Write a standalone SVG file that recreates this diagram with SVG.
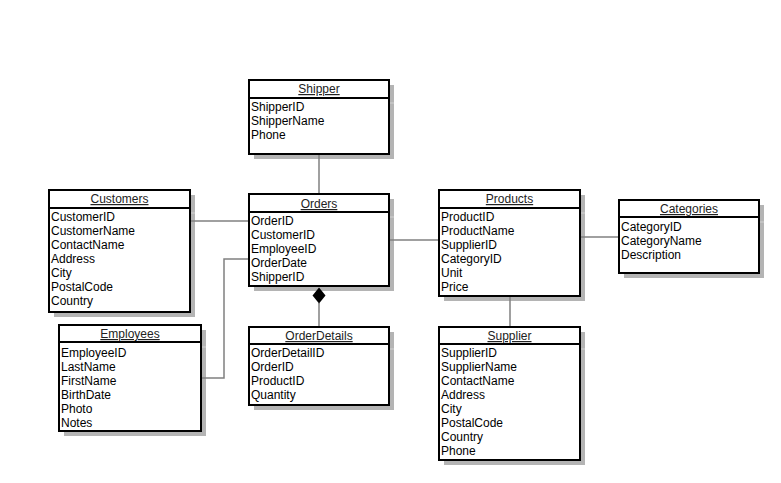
<svg xmlns="http://www.w3.org/2000/svg" width="781" height="483" viewBox="0 0 781 483">
<style>
.sh{fill:#b4b4b4}
.shl{stroke:#c8c8c8;stroke-width:1.5}
.bx{fill:#fff;stroke:#000;stroke-width:2}
.sep{stroke:#000;stroke-width:2}
.t{font-family:"Liberation Sans",Arial,sans-serif;font-size:12px;fill:#222;text-decoration:underline;text-anchor:middle}
.f{font-family:"Liberation Sans",Arial,sans-serif;font-size:12px;fill:#000}
.c{stroke:#808080;stroke-width:1.5;fill:none}
</style>
<rect width="781" height="483" fill="#fff"/>
<g id="shipper">
<rect class="sh" x="254" y="85" width="140" height="74"/>
<line class="shl" x1="389" y1="103" x2="394" y2="103"/>
<rect class="bx" x="249" y="80" width="140" height="74"/>
<line class="sep" x1="249" y1="98" x2="389" y2="98"/>
<text class="t" x="319" y="93">Shipper</text>
<text class="f" x="251" y="111">ShipperID</text>
<text class="f" x="251" y="125">ShipperName</text>
<text class="f" x="251" y="139">Phone</text>
</g>
<g id="customers">
<rect class="sh" x="54" y="195" width="141" height="122"/>
<line class="shl" x1="190" y1="213" x2="195" y2="213"/>
<rect class="bx" x="49" y="190" width="141" height="122"/>
<line class="sep" x1="49" y1="208" x2="190" y2="208"/>
<text class="t" x="119.5" y="203">Customers</text>
<text class="f" x="51" y="221">CustomerID</text>
<text class="f" x="51" y="235">CustomerName</text>
<text class="f" x="51" y="249">ContactName</text>
<text class="f" x="51" y="263">Address</text>
<text class="f" x="51" y="277">City</text>
<text class="f" x="51" y="291">PostalCode</text>
<text class="f" x="51" y="305">Country</text>
</g>
<g id="orders">
<rect class="sh" x="254" y="199" width="140" height="92"/>
<line class="shl" x1="389" y1="217" x2="394" y2="217"/>
<rect class="bx" x="249" y="194" width="140" height="92"/>
<line class="sep" x1="249" y1="212" x2="389" y2="212"/>
<text class="t" x="319" y="208">Orders</text>
<text class="f" x="251" y="225">OrderID</text>
<text class="f" x="251" y="239">CustomerID</text>
<text class="f" x="251" y="253">EmployeeID</text>
<text class="f" x="251" y="267">OrderDate</text>
<text class="f" x="251" y="281">ShipperID</text>
</g>
<g id="products">
<rect class="sh" x="444" y="195" width="141" height="106"/>
<line class="shl" x1="580" y1="213" x2="585" y2="213"/>
<rect class="bx" x="439" y="190" width="141" height="106"/>
<line class="sep" x1="439" y1="208" x2="580" y2="208"/>
<text class="t" x="509.5" y="203">Products</text>
<text class="f" x="441" y="221">ProductID</text>
<text class="f" x="441" y="235">ProductName</text>
<text class="f" x="441" y="249">SupplierID</text>
<text class="f" x="441" y="263">CategoryID</text>
<text class="f" x="441" y="277">Unit</text>
<text class="f" x="441" y="291">Price</text>
</g>
<g id="categories">
<rect class="sh" x="624" y="205" width="140" height="73"/>
<line class="shl" x1="759" y1="222" x2="764" y2="222"/>
<rect class="bx" x="619" y="200" width="140" height="73"/>
<line class="sep" x1="619" y1="217" x2="759" y2="217"/>
<text class="t" x="689" y="213">Categories</text>
<text class="f" x="621" y="231">CategoryID</text>
<text class="f" x="621" y="245">CategoryName</text>
<text class="f" x="621" y="259">Description</text>
</g>
<g id="employees">
<rect class="sh" x="64" y="330" width="142" height="106"/>
<line class="shl" x1="201" y1="347" x2="206" y2="347"/>
<rect class="bx" x="59" y="325" width="142" height="106"/>
<line class="sep" x1="59" y1="342" x2="201" y2="342"/>
<text class="t" x="130" y="338">Employees</text>
<text class="f" x="61" y="357">EmployeeID</text>
<text class="f" x="61" y="371">LastName</text>
<text class="f" x="61" y="385">FirstName</text>
<text class="f" x="61" y="399">BirthDate</text>
<text class="f" x="61" y="413">Photo</text>
<text class="f" x="61" y="427">Notes</text>
</g>
<g id="orderdetails">
<rect class="sh" x="254" y="332" width="140" height="78"/>
<line class="shl" x1="389" y1="349" x2="394" y2="349"/>
<rect class="bx" x="249" y="327" width="140" height="78"/>
<line class="sep" x1="249" y1="344" x2="389" y2="344"/>
<text class="t" x="319" y="340">OrderDetails</text>
<text class="f" x="251" y="357">OrderDetailID</text>
<text class="f" x="251" y="371">OrderID</text>
<text class="f" x="251" y="385">ProductID</text>
<text class="f" x="251" y="399">Quantity</text>
</g>
<g id="supplier">
<rect class="sh" x="444" y="332" width="141" height="133"/>
<line class="shl" x1="580" y1="349" x2="585" y2="349"/>
<rect class="bx" x="439" y="327" width="141" height="133"/>
<line class="sep" x1="439" y1="344" x2="580" y2="344"/>
<text class="t" x="509.5" y="340">Supplier</text>
<text class="f" x="441" y="357">SupplierID</text>
<text class="f" x="441" y="371">SupplierName</text>
<text class="f" x="441" y="385">ContactName</text>
<text class="f" x="441" y="399">Address</text>
<text class="f" x="441" y="413">City</text>
<text class="f" x="441" y="427">PostalCode</text>
<text class="f" x="441" y="441">Country</text>
<text class="f" x="441" y="455">Phone</text>
</g>
<g id="connectors">
<line class="c" x1="319" y1="155" x2="319" y2="193"/>
<line class="c" x1="191" y1="221" x2="248" y2="221"/>
<polyline class="c" points="202,378 224,378 224,259 248,259"/>
<line class="c" x1="390" y1="240" x2="438" y2="240"/>
<line class="c" x1="581" y1="237" x2="618" y2="237"/>
<line class="c" x1="510" y1="297" x2="510" y2="326"/>
<line class="c" x1="319" y1="303" x2="319" y2="326"/>
<polygon points="319,287.5 325.5,295.5 319,303.5 312.5,295.5" fill="#000"/>
</g>
</svg>
